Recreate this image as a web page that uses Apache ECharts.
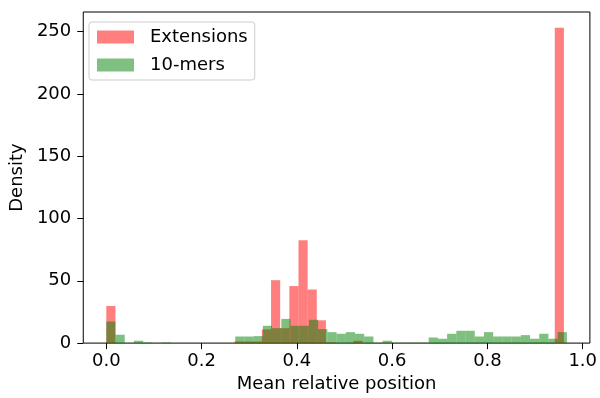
<!DOCTYPE html>
<html><head><meta charset="utf-8">
<script src="https://cdn.jsdelivr.net/npm/echarts@6/dist/echarts.min.js"></script>
<style>html,body{margin:0;padding:0;background:#fff}#c{width:600px;height:398px}</style>
</head><body><div id="c"></div>
<script>
// ---- data ----
const seriesNames = ['Extensions', '10-mers'];
const xAxisTitle = 'Mean relative position';
const yAxisTitle = 'Density';
// histogram data ranges (50 bins each)
const extRange = [0, 0.9605];
const merRange = [0, 0.9667];
const extensionsDensity = [
  29.8, 0, 0, 0, 0, 0, 0, 0, 0, 0,
  0, 0, 0, 0, 1.3, 1.3, 1.3, 11, 50.5, 12,
  45.8, 82.5, 43, 18.3, 0.5, 0, 0, 1.9, 0, 0,
  0, 0, 0, 0, 0, 0, 0, 0, 0, 0,
  0, 0, 0, 0, 0, 0, 0, 0, 0, 253.1
];
const tenmersDensity = [
  17.3, 6.7, 0, 1.9, 0.5, 0, 0.5, 0, 0, 0,
  0, 0, 0, 0, 5.3, 5.3, 5.6, 13.9, 12, 19.4,
  13.9, 13.9, 18.7, 11.2, 8.8, 7.5, 8.8, 7.5, 5.3, 0.3,
  1.9, 0.3, 0.3, 0.3, 0.3, 4.5, 3.5, 7.5, 9.9, 9.9,
  5.3, 8.8, 5.3, 5.3, 5.3, 6.4, 3.5, 7.5, 3.5, 8.8
];
const xTicks = [0, 0.2, 0.4, 0.6, 0.8, 1.0];
const yTicks = [0, 50, 100, 150, 200, 250];

// ---- build ----
function bins(range, vals) {
  const w = (range[1] - range[0]) / vals.length;
  return vals.map((v, i) => [range[0] + i * w, range[0] + (i + 1) * w, v]);
}
const lo = Math.min(extRange[0], merRange[0]);
const hi = Math.max(extRange[1], merRange[1]);
const xPad = (hi - lo) * 0.05;
const yMax = Math.max(...extensionsDensity, ...tenmersDensity) * 1.05;
const FONT = 'DejaVu Sans';
const FS = 18;
const colors = ['rgba(255,0,0,0.5)', 'rgba(0,128,0,0.5)'];

function makeRender(color) {
  return function (params, api) {
    const p0 = api.coord([api.value(0), api.value(2)]);
    const p1 = api.coord([api.value(1), 0]);
    return {type: 'rect', shape: {x: p0[0], y: p0[1], width: p1[0] - p0[0], height: p1[1] - p0[1]},
      style: {fill: color}};
  };
}

const chart = echarts.init(document.getElementById('c'), null, {renderer: 'canvas'});
chart.setOption({
  animation: false,
  backgroundColor: '#fff',
  grid: {left: 80, right: 6, top: 12, bottom: 52, show: true, borderColor: '#000', borderWidth: 1, backgroundColor: 'transparent'},
  xAxis: {
    type: 'value', min: lo - xPad, max: hi + xPad,
    name: xAxisTitle, nameLocation: 'middle', nameGap: 30,
    nameTextStyle: {fontFamily: FONT, fontSize: FS, color: '#000'},
    splitLine: {show: false},
    axisLine: {show: false, onZero: false},
    axisTick: {show: true, length: 6, lineStyle: {color: '#000', width: 1}, customValues: xTicks},
    axisLabel: {customValues: xTicks, margin: 9, fontFamily: FONT, fontSize: FS, color: '#000',
      formatter: v => v.toFixed(1)}
  },
  yAxis: {
    type: 'value', min: 0, max: yMax,
    name: yAxisTitle, nameLocation: 'middle', nameGap: 54,
    nameTextStyle: {fontFamily: FONT, fontSize: FS, color: '#000'},
    splitLine: {show: false},
    axisLine: {show: false, onZero: false},
    axisTick: {show: true, length: 6, lineStyle: {color: '#000', width: 1}, customValues: yTicks},
    axisLabel: {customValues: yTicks, margin: 12, fontFamily: FONT, fontSize: FS, color: '#000',
      formatter: v => String(Math.round(v))}
  },
  legend: {
    orient: 'vertical', left: 89, top: 22, padding: [6, 7, 6, 8],
    itemWidth: 37, itemHeight: 13, itemGap: 10,
    backgroundColor: 'rgba(255,255,255,0.8)', borderColor: '#cccccc', borderWidth: 1, borderRadius: 3,
    textStyle: {fontFamily: FONT, fontSize: FS, color: '#000', padding: [0, 0, 0, 11]},
    data: [
      {name: seriesNames[0], icon: 'rect', itemStyle: {color: colors[0]}},
      {name: seriesNames[1], icon: 'rect', itemStyle: {color: colors[1]}}
    ]
  },
  series: [
    {type: 'custom', name: seriesNames[0], renderItem: makeRender(colors[0]), itemStyle: {color: colors[0]},
      encode: {x: [0, 1], y: 2}, data: bins(extRange, extensionsDensity), z: 2},
    {type: 'custom', name: seriesNames[1], renderItem: makeRender(colors[1]), itemStyle: {color: colors[1]},
      encode: {x: [0, 1], y: 2}, data: bins(merRange, tenmersDensity), z: 3}
  ]
});
</script></body></html>
